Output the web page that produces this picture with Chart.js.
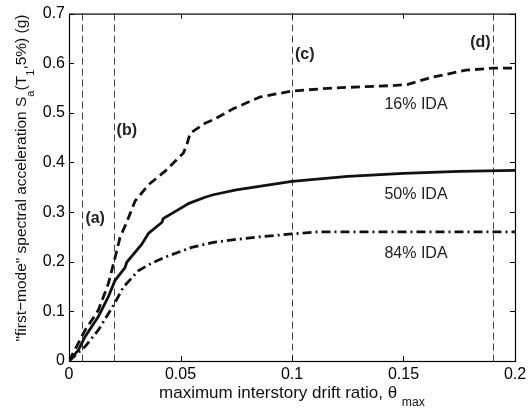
<!DOCTYPE html>
<html>
<head>
<meta charset="utf-8">
<script src="https://cdn.jsdelivr.net/npm/chart.js@4"></script>
<style>
  html, body { margin: 0; padding: 0; background: #fff; }
  #wrap { width: 531px; height: 411px; }
</style>
</head>
<body>
<div id="wrap"><canvas id="idaChart" width="531" height="411"></canvas></div>
<script>
// IDA fractile curves: drift ratio vs Sa(T1,5%)
const x16 = [0, 0.0072, 0.0131, 0.0176, 0.0203, 0.0229, 0.0259, 0.0296, 0.0356, 0.043, 0.0513, 0.0528, 0.0543, 0.061, 0.0647, 0.0735, 0.0857, 0.1, 0.118, 0.145, 0.1516, 0.163, 0.178, 0.19, 0.2];
const y16 = [0, 0.062, 0.102, 0.155, 0.202, 0.249, 0.28, 0.322, 0.355, 0.382, 0.419, 0.435, 0.459, 0.479, 0.486, 0.508, 0.532, 0.544, 0.55, 0.555, 0.557, 0.572, 0.586, 0.59, 0.59];

const x50 = [0, 0.0042, 0.0072, 0.0131, 0.0176, 0.0206, 0.0251, 0.0259, 0.0326, 0.0356, 0.0416, 0.0423, 0.046, 0.0535, 0.061, 0.0647, 0.075, 0.1, 0.125, 0.15, 0.175, 0.2];
const y50 = [0, 0.022, 0.049, 0.089, 0.129, 0.162, 0.188, 0.199, 0.235, 0.257, 0.279, 0.287, 0.297, 0.317, 0.33, 0.335, 0.345, 0.362, 0.372, 0.378, 0.382, 0.384];

const x84 = [0, 0.0072, 0.0131, 0.0203, 0.0244, 0.0311, 0.037, 0.043, 0.055, 0.0647, 0.075, 0.085, 0.1, 0.111, 0.13, 0.2];
const y84 = [0, 0.029, 0.062, 0.115, 0.149, 0.182, 0.197, 0.209, 0.229, 0.239, 0.245, 0.25, 0.256, 0.26, 0.26, 0.26];

// limit-state markers
const stateDrift = [0.006, 0.02, 0.1, 0.19];
const stateNames = ["(a)", "(b)", "(c)", "(d)"];

const xTicks = [0, 0.05, 0.1, 0.15, 0.2];
const yTicks = [0, 0.1, 0.2, 0.3, 0.4, 0.5, 0.6, 0.7];

const pts = (xs, ys) => xs.map((x, i) => ({ x: x, y: ys[i] }));

const FONT = "'Liberation Sans', Arial, Helvetica, sans-serif";

// text with subscripts: parts = [[text, isSub], ...]
function richWidth(ctx, parts, size) {
  let w = 0;
  parts.forEach(([t, sub]) => {
    ctx.font = (sub ? size * 0.72 : size) + "px " + FONT;
    w += ctx.measureText(t).width;
  });
  return w;
}
function drawRich(ctx, parts, cx, cy, size) {
  let x = cx - richWidth(ctx, parts, size) / 2;
  ctx.textAlign = "left";
  ctx.textBaseline = "middle";
  parts.forEach(([t, sub]) => {
    ctx.font = (sub ? size * 0.72 : size) + "px " + FONT;
    ctx.fillText(t, x, sub ? cy + size * 0.55 : cy);
    x += ctx.measureText(t).width;
  });
}

const frame = {
  id: "frame",
  beforeDatasetsDraw(chart) {
    const { ctx, chartArea: a, scales: { x } } = chart;
    ctx.save();
    ctx.strokeStyle = "#444";
    ctx.lineWidth = 1;
    ctx.setLineDash([7, 4]);
    stateDrift.forEach(d => {
      const px = Math.round(x.getPixelForValue(d)) + 0.5;
      ctx.beginPath();
      ctx.moveTo(px, a.top);
      ctx.lineTo(px, a.bottom);
      ctx.stroke();
    });
    ctx.restore();
  },
  afterDraw(chart) {
    const { ctx, chartArea: a, scales: { x, y } } = chart;
    ctx.save();
    ctx.strokeStyle = "#000";
    ctx.lineWidth = 1.2;
    ctx.setLineDash([]);
    ctx.strokeRect(a.left + 0.5, a.top + 0.5, a.right - a.left, a.bottom - a.top);
    const tl = 5;
    ctx.lineWidth = 1;
    ctx.beginPath();
    xTicks.forEach(v => {
      const px = Math.round(x.getPixelForValue(v)) + 0.5;
      ctx.moveTo(px, a.bottom); ctx.lineTo(px, a.bottom - tl);
      ctx.moveTo(px, a.top); ctx.lineTo(px, a.top + tl);
    });
    yTicks.forEach(v => {
      const py = Math.round(y.getPixelForValue(v)) + 0.5;
      ctx.moveTo(a.left, py); ctx.lineTo(a.left + tl, py);
      ctx.moveTo(a.right, py); ctx.lineTo(a.right - tl, py);
    });
    ctx.stroke();

    // state labels
    ctx.fillStyle = "#222";
    ctx.font = "bold 16px " + FONT;
    ctx.textBaseline = "middle";
    const labelY = [0.286, 0.464, 0.618, 0.642];
    stateNames.forEach((n, i) => {
      const px = x.getPixelForValue(stateDrift[i]);
      if (i === 3) {
        ctx.textAlign = "right";
        ctx.fillText(n, px - 2, y.getPixelForValue(labelY[i]));
      } else {
        ctx.textAlign = "left";
        ctx.fillText(n, px + 3, y.getPixelForValue(labelY[i]));
      }
    });

    // curve labels
    ctx.font = "16px " + FONT;
    ctx.textAlign = "center";
    ctx.fillText("16% IDA", x.getPixelForValue(0.1556), y.getPixelForValue(0.516));
    ctx.fillText("50% IDA", x.getPixelForValue(0.1556), y.getPixelForValue(0.336));
    ctx.fillText("84% IDA", x.getPixelForValue(0.1556), y.getPixelForValue(0.216));

    // axis titles
    ctx.fillStyle = "#111";
    drawRich(ctx, [["maximum interstory drift ratio, \u03b8 ", false], ["max", true]],
      (a.left + a.right) / 2, 393, 17);
    ctx.translate(22, 178);
    ctx.rotate(-Math.PI / 2);
    drawRich(ctx, [["\"first\u2212mode\" spectral acceleration S", false], ["a", true],
      ["(T", false], ["1", true], [",5%) (g)", false]], 0, 0, 15.5);
    ctx.restore();
  }
};

const lineStyle = { borderColor: "#111", pointRadius: 0, fill: false, tension: 0, borderWidth: 2.8, borderCapStyle: "butt", borderJoinStyle: "round" };

new Chart(document.getElementById("idaChart"), {
  type: "line",
  data: {
    datasets: [
      Object.assign({ label: "16% IDA", data: pts(x16, y16), borderDash: [9, 5] }, lineStyle),
      Object.assign({ label: "50% IDA", data: pts(x50, y50) }, lineStyle),
      Object.assign({ label: "84% IDA", data: pts(x84, y84), borderDash: [9, 4, 2, 4] }, lineStyle)
    ]
  },
  options: {
    responsive: false,
    animation: false,
    layout: { padding: { left: 0, right: 16, top: 11, bottom: 0 } },
    plugins: { legend: { display: false }, tooltip: { enabled: false } },
    scales: {
      x: {
        type: "linear", min: 0, max: 0.2,
        afterFit: s => { s.height = 50; },
        afterBuildTicks: s => { s.ticks = xTicks.map(v => ({ value: v })); },
        grid: { display: false, drawTicks: false },
        border: { display: false },
        ticks: { padding: 4, color: "#000", font: { family: FONT, size: 16 }, maxRotation: 0,
          callback: v => String(+v.toFixed(2)) }
      },
      y: {
        type: "linear", min: 0, max: 0.7,
        afterFit: s => { s.width = 69; },
        afterBuildTicks: s => { s.ticks = yTicks.map(v => ({ value: v })); },
        grid: { display: false, drawTicks: false },
        border: { display: false },
        ticks: { padding: 4, color: "#000", font: { family: FONT, size: 16 },
          callback: v => String(+v.toFixed(2)) }
      }
    }
  },
  plugins: [frame]
});
</script>
</body>
</html>
